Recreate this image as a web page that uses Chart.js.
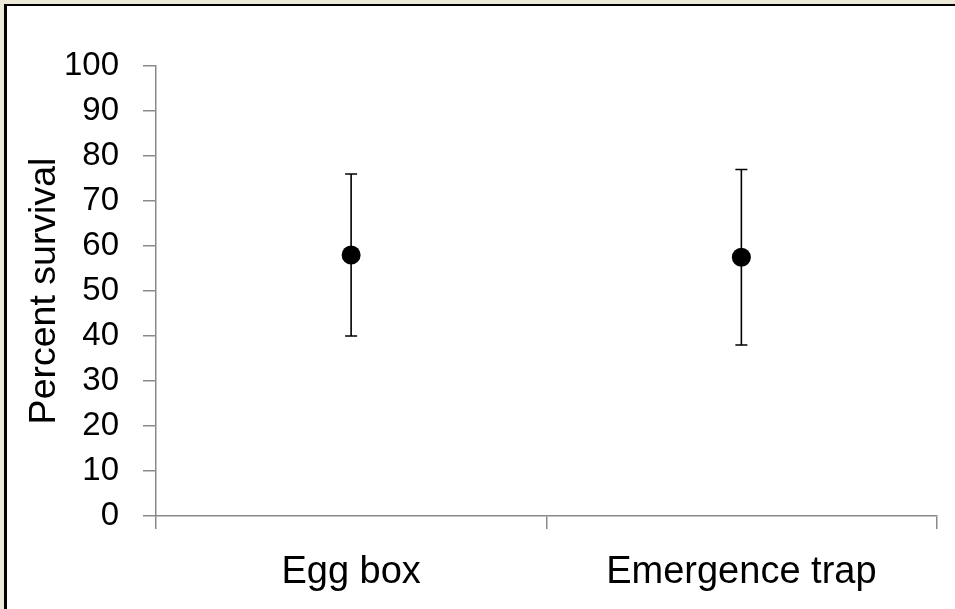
<!DOCTYPE html>
<html>
<head>
<meta charset="utf-8">
<script src="https://cdn.jsdelivr.net/npm/chart.js@4/dist/chart.umd.min.js"></script>
<style>
  html, body { margin: 0; padding: 0; background: #ECE9D8; width: 955px; height: 609px; overflow: hidden; }
  #frame { position: absolute; left: 4px; top: 4px; width: 960px; height: 620px; background: #fff;
           border-left: 3px solid #000; border-top: 2px solid #000; }
  #wrap { position: absolute; left: 0; top: 0; width: 955px; height: 609px; }
</style>
</head>
<body>
<div id="frame"></div>
<div id="wrap"><canvas id="c"></canvas></div>
<script>
const categories = ["Egg box", "Emergence trap"];
const meanSurvival = [58, 57.5];
const upperBound = [76, 77];
const lowerBound = [40, 38];
const yTicks = [0, 10, 20, 30, 40, 50, 60, 70, 80, 90, 100];
const yTitle = "Percent survival";

const FONT = "'Liberation Sans', Arial, sans-serif";

const errorBarsBelow = {
  id: 'errorBarsBelow',
  beforeDatasetsDraw(chart) {
    const ctx = chart.ctx;
    const xs = chart.scales.x, ys = chart.scales.y;
    ctx.save();
    ctx.strokeStyle = '#000';
    ctx.lineWidth = 1.6;
    categories.forEach((c, i) => {
      const x = xs.getPixelForValue(i);
      const yt = ys.getPixelForValue(upperBound[i]);
      const yb = ys.getPixelForValue(lowerBound[i]);
      ctx.beginPath();
      ctx.moveTo(x, yt); ctx.lineTo(x, yb);
      ctx.moveTo(x - 6, yt); ctx.lineTo(x + 6, yt);
      ctx.moveTo(x - 6, yb); ctx.lineTo(x + 6, yb);
      ctx.stroke();
    });
    ctx.restore();
  }
};

new Chart(document.getElementById('c'), {
  type: 'line',
  data: {
    labels: categories,
    datasets: [{
      data: meanSurvival,
      showLine: false,
      pointRadius: 9.5,
      pointHoverRadius: 9.5,
      pointBackgroundColor: '#000',
      pointBorderColor: '#000',
      pointBorderWidth: 0
    }]
  },
  options: {
    responsive: true,
    maintainAspectRatio: false,
    animation: false,
    events: [],
    layout: { padding: { left: 0, top: 66, right: 18.5, bottom: 0 } },
    plugins: { legend: { display: false }, tooltip: { enabled: false } },
    scales: {
      x: {
        type: 'category',
        offset: true,
        afterFit(s) { s.height = 93; },
        grid: { offset: true, drawOnChartArea: false, drawTicks: true, tickLength: 13, color: '#8a8a8a', lineWidth: 1.5 },
        border: { color: '#8a8a8a', width: 1.5 },
        ticks: { color: '#000', padding: 21, font: { family: FONT, size: 38, lineHeight: 1.2 }, maxRotation: 0 }
      },
      y: {
        min: 0, max: 100,
        afterFit(s) { s.width = 156; },
        afterBuildTicks(s) { s.ticks = yTicks.map(v => ({ value: v })); },
        grid: { drawOnChartArea: false, drawTicks: true, tickLength: 13, color: '#8a8a8a', lineWidth: 1.5 },
        border: { color: '#8a8a8a', width: 1.5 },
        ticks: { color: '#000', padding: 24, font: { family: FONT, size: 33 } },
        title: { display: true, text: yTitle, color: '#000', padding: { top: 22, bottom: 0 }, font: { family: FONT, size: 37.5, lineHeight: 1.2 } }
      }
    }
  },
  plugins: [errorBarsBelow]
});
</script>
</body>
</html>
